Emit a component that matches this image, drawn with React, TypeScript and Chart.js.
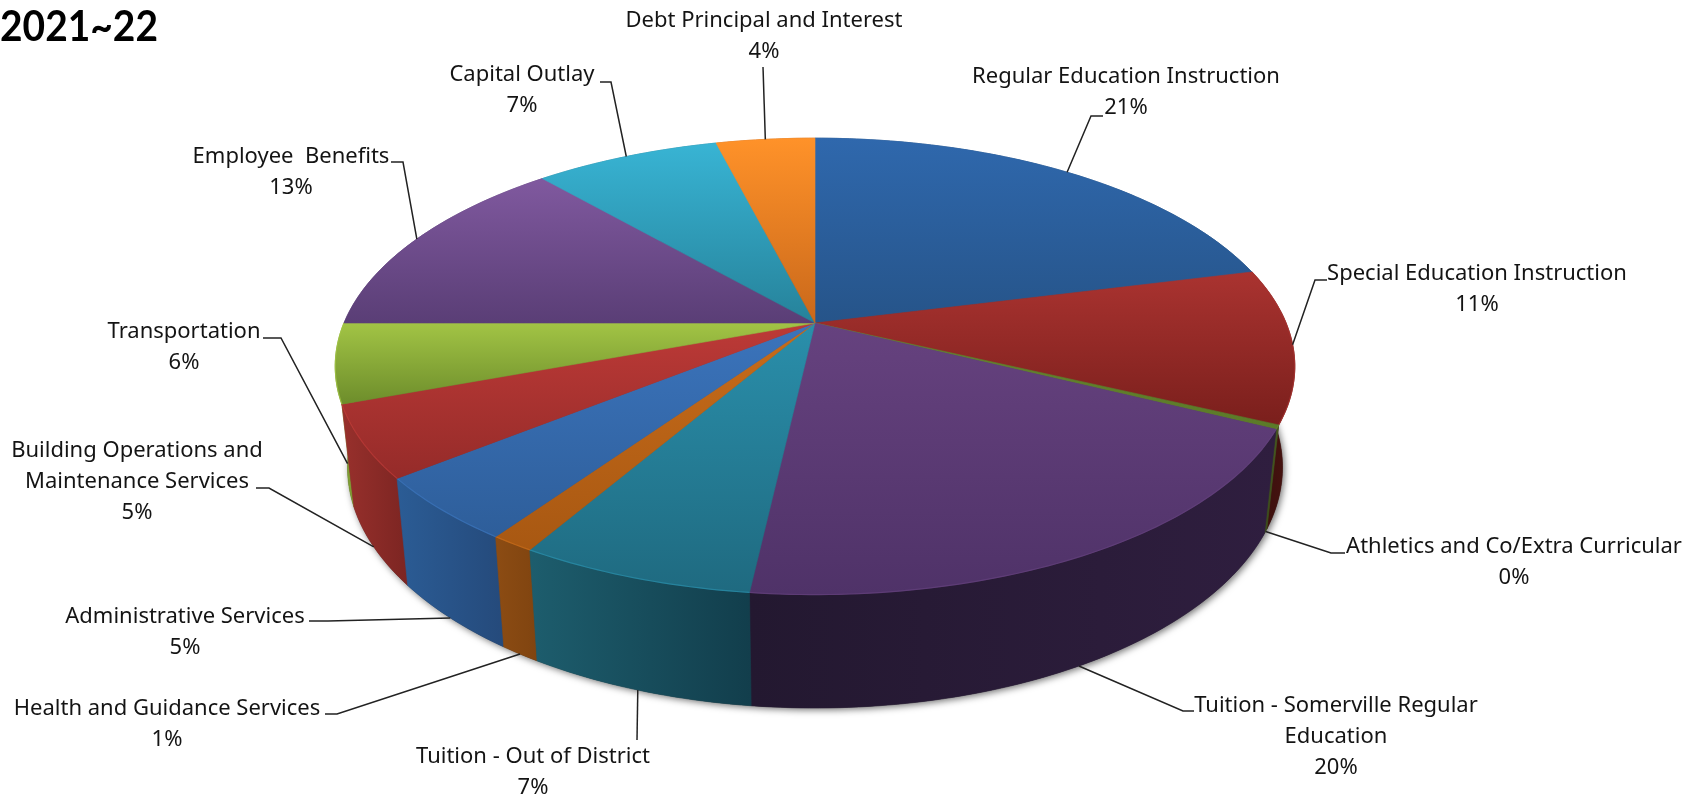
import React, { useEffect, useRef } from "react";
import { Chart, registerables } from "chart.js";

Chart.register(...registerables);

// ---- data ----
const titleText = "2021~22";
const categories = [
  "Regular Education Instruction",
  "Special Education Instruction",
  "Athletics and Co/Extra Curricular",
  "Tuition - Somerville Regular Education",
  "Tuition - Out of District",
  "Health and Guidance Services",
  "Administrative Services",
  "Building Operations and Maintenance Services",
  "Transportation",
  "Employee  Benefits",
  "Capital Outlay",
  "Debt Principal and Interest",
];
const shareValues = [21.1, 10.9, 0.3, 19.5, 6.65, 1.25, 4.6, 5.1, 5.6, 13.5, 7.5, 4.0];
const percentLabels = ["21%", "11%", "0%", "20%", "7%", "1%", "5%", "5%", "6%", "13%", "7%", "4%"];

// ---- styles ----
const labelLines = [
  ["Regular Education Instruction"],
  ["Special Education Instruction"],
  ["Athletics and Co/Extra Curricular"],
  ["Tuition - Somerville Regular", "Education"],
  ["Tuition - Out of District"],
  ["Health and Guidance Services"],
  ["Administrative Services"],
  ["Building Operations and", "Maintenance Services"],
  ["Transportation"],
  ["Employee  Benefits"],
  ["Capital Outlay"],
  ["Debt Principal and Interest"],
];
// top face gradient [light, dark], wall gradient [left, right]
const topColors = [
  ["#2f68ad", "#265489"], ["#aa3330", "#7a1f1c"], ["#66852e", "#5b7a28"], ["#66427f", "#4f3268"],
  ["#2a8fab", "#1f6a80"], ["#c86c1a", "#a85812"], ["#3b74bc", "#2e5e9a"], ["#bd3a37", "#952b29"],
  ["#a2c445", "#6d8d2b"], ["#80599f", "#5a3e76"], ["#38b4d4", "#26829a"], ["#ff9229", "#c9681b"],
];
const wallColors = [
  ["#244f80", "#244f80"], ["#4a1411", "#300c0a"], ["#46591f", "#3a4a1a"], ["#2f1e3f", "#231830"],
  ["#1d5d6d", "#123e4c"], ["#8c4c13", "#804410"], ["#2b5c95", "#254a7b"], ["#98302c", "#7c2522"],
  ["#7f9e33", "#7f9e33"], ["#5a3e76", "#5a3e76"], ["#26829a", "#26829a"], ["#c9681b", "#c9681b"],
];

// projected pie geometry
const CX = 815;
const CY = 323;
const RX = 471;
const RY = 220;
const K = 0.19;
const BOTTOM_CY = 421.6;
const BOTTOM_RX = 459;
const BOTTOM_RY = 232;

// label placement: text centre x, first line centre y, leader elbow and leader end, rim the leader starts from
const placements: { x: number; y: number; elbow?: number[]; end: number[]; rim: "top" | "bottom" }[] = [
  { x: 1126, y: 77, elbow: [1091, 116], end: [1103, 116], rim: "top" },
  { x: 1477, y: 274, elbow: [1315, 280], end: [1327, 280], rim: "top" },
  { x: 1514, y: 547, elbow: [1331, 553], end: [1345, 553], rim: "bottom" },
  { x: 1336, y: 706, elbow: [1183, 711], end: [1194, 711], rim: "bottom" },
  { x: 533, y: 757, end: [637, 740], rim: "bottom" },
  { x: 167, y: 709, elbow: [337, 714], end: [325, 714], rim: "bottom" },
  { x: 185, y: 617, elbow: [328, 621], end: [309, 621], rim: "bottom" },
  { x: 137, y: 451, elbow: [269, 488], end: [256, 488], rim: "bottom" },
  { x: 184, y: 332, elbow: [281, 338], end: [263, 338], rim: "bottom" },
  { x: 291, y: 157, elbow: [403, 162], end: [391, 162], rim: "top" },
  { x: 522, y: 75, elbow: [611, 82], end: [600, 82], rim: "top" },
  { x: 764, y: 21, end: [763, 67], rim: "top" },
];
const LINE_HEIGHT = 31;
const LABEL_FONT = '22px "Noto Sans"';
const TITLE_FONT = "bold 42px Lato";

const project = (a: number, rim: "top" | "bottom") => {
  const x = Math.cos(a);
  const y = Math.sin(a);
  const w = 1 - K * y;
  return rim === "top"
    ? [CX + (RX * x) / w, CY + (RY * y) / w]
    : [CX + (BOTTOM_RX * x) / w, BOTTOM_CY + (BOTTOM_RY * y) / w];
};

const arcPoints = (start: number, end: number, rim: "top" | "bottom") => {
  const n = Math.max(2, Math.ceil(((end - start) * 180) / Math.PI));
  const pts: number[][] = [];
  for (let i = 0; i <= n; i++) pts.push(project(start + ((end - start) * i) / n, rim));
  return pts;
};

const pie3d = {
  id: "pie3d",
  beforeDatasetsDraw(chart: any) {
    const ctx: CanvasRenderingContext2D = chart.ctx;
    const arcs = chart.getDatasetMeta(0).data;
    const first = arcs[0].startAngle;
    const last = arcs[arcs.length - 1].endAngle;

    // soft shadow under the base
    ctx.save();
    ctx.shadowColor = "rgba(0,0,0,0.55)";
    ctx.shadowBlur = 7;
    ctx.shadowOffsetX = 2;
    ctx.shadowOffsetY = 2;
    ctx.fillStyle = "#333";
    ctx.beginPath();
    arcPoints(first, last, "bottom").forEach((p, i) => (i ? ctx.lineTo(p[0], p[1]) : ctx.moveTo(p[0], p[1])));
    ctx.closePath();
    ctx.fill();
    ctx.restore();

    // side walls, far ones first
    const order = arcs
      .map((a: any, i: number) => ({ a, i }))
      .sort((p: any, q: any) => Math.sin((p.a.startAngle + p.a.endAngle) / 2) - Math.sin((q.a.startAngle + q.a.endAngle) / 2));
    order.forEach(({ a, i }: any) => {
      const top = arcPoints(a.startAngle, a.endAngle, "top");
      const bottom = arcPoints(a.startAngle, a.endAngle, "bottom");
      const xs = top.concat(bottom).map((p) => p[0]);
      const minX = Math.min(...xs);
      const maxX = Math.max(...xs);
      const g = ctx.createLinearGradient(minX, 0, Math.max(maxX, minX + 1), 0);
      const forward = Math.cos((a.startAngle + a.endAngle) / 2) < 0;
      g.addColorStop(0, wallColors[i][forward ? 0 : 1]);
      g.addColorStop(1, wallColors[i][forward ? 1 : 0]);
      ctx.fillStyle = g;
      ctx.strokeStyle = g;
      ctx.lineWidth = 0.6;
      ctx.beginPath();
      top.forEach((p, k) => (k ? ctx.lineTo(p[0], p[1]) : ctx.moveTo(p[0], p[1])));
      bottom.reverse().forEach((p) => ctx.lineTo(p[0], p[1]));
      ctx.closePath();
      ctx.fill();
      ctx.stroke();
    });

    // top faces
    arcs.forEach((a: any, i: number) => {
      const rim = arcPoints(a.startAngle, a.endAngle, "top");
      const ys = rim.map((p) => p[1]).concat(CY);
      const g = ctx.createLinearGradient(0, Math.min(...ys), 0, Math.max(...ys));
      g.addColorStop(0, topColors[i][0]);
      g.addColorStop(1, topColors[i][1]);
      ctx.fillStyle = g;
      ctx.strokeStyle = g;
      ctx.lineWidth = 0.6;
      ctx.beginPath();
      ctx.moveTo(CX, CY);
      rim.forEach((p) => ctx.lineTo(p[0], p[1]));
      ctx.closePath();
      ctx.fill();
      ctx.stroke();
      // highlight on the front rim
      ctx.strokeStyle = topColors[i][0];
      ctx.globalAlpha = 0.75;
      ctx.lineWidth = 1.2;
      ctx.beginPath();
      rim.forEach((p, k) => (k ? ctx.lineTo(p[0], p[1]) : ctx.moveTo(p[0], p[1])));
      if (Math.sin((a.startAngle + a.endAngle) / 2) > 0) ctx.stroke();
      ctx.globalAlpha = 1;
    });
    return false;
  },
  afterDraw(chart: any) {
    const ctx: CanvasRenderingContext2D = chart.ctx;
    const arcs = chart.getDatasetMeta(0).data;
    ctx.save();
    // leaders
    ctx.strokeStyle = "#222";
    ctx.lineWidth = 1.5;
    placements.forEach((pl, i) => {
      const mid = (arcs[i].startAngle + arcs[i].endAngle) / 2;
      const s = project(mid, pl.rim);
      ctx.beginPath();
      ctx.moveTo(s[0], s[1]);
      if (pl.elbow) ctx.lineTo(pl.elbow[0], pl.elbow[1]);
      ctx.lineTo(pl.end[0], pl.end[1]);
      ctx.stroke();
    });
    // labels
    ctx.fillStyle = "#141414";
    ctx.font = LABEL_FONT;
    ctx.textAlign = "center";
    ctx.textBaseline = "middle";
    placements.forEach((pl, i) => {
      const lines = [...labelLines[i], percentLabels[i]];
      lines.forEach((t, k) => ctx.fillText(t, pl.x, pl.y + k * LINE_HEIGHT));
    });
    // title
    ctx.fillStyle = "#000";
    ctx.font = TITLE_FONT;
    ctx.textAlign = "left";
    ctx.fillText(titleText, 0, 27, 158);
    ctx.restore();
  },
};

export default function App() {
  const ref = useRef<HTMLCanvasElement>(null);
  useEffect(() => {
    const chart = new Chart(ref.current!, {
      type: "pie",
      data: {
        labels: categories,
        datasets: [{ data: shareValues, backgroundColor: topColors.map((c) => c[0]), borderWidth: 0 }],
      },
      options: {
        animation: false,
        responsive: false,
        devicePixelRatio: 1,
        plugins: { legend: { display: false }, tooltip: { enabled: false } },
      },
      plugins: [pie3d as any],
    });
    return () => chart.destroy();
  }, []);
  return (
    <div style={{ position: "fixed", left: 0, top: 0, width: 1706, height: 796, background: "#fff", overflow: "hidden" }}>
      <canvas ref={ref} width={1706} height={796} style={{ display: "block", filter: "blur(0.5px)" }} />
    </div>
  );
}
